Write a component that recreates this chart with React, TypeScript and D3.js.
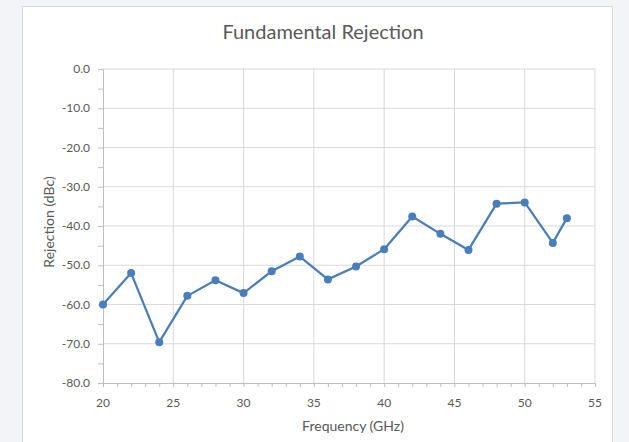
import React, { useEffect, useRef } from 'react';
import * as d3 from 'd3';

// Fundamental rejection vs frequency
const frequencies = [20, 22, 24, 26, 28, 30, 32, 34, 36, 38, 40, 42, 44, 46, 48, 50, 52, 53];
const rejection = [-60.0, -52.0, -69.6, -57.8, -53.8, -57.1, -51.5, -47.8, -53.6, -50.3, -45.9, -37.6, -42.0, -46.1, -34.3, -34.0, -44.3, -38.0];
const xTicks = [20, 25, 30, 35, 40, 45, 50, 55];
const yTicks = [0, -10, -20, -30, -40, -50, -60, -70, -80];

const W = 629;
const H = 442;
const FONT = "Lato, 'Open Sans', sans-serif";

const App: React.FC = () => {
  const svgRef = useRef<SVGSVGElement>(null);

  useEffect(() => {
    if (!svgRef.current) return;
    const svg = d3.select(svgRef.current);
    svg.selectAll("*").remove();

    // page background + card
    svg.append("rect").attr("width", W).attr("height", H).attr("fill", "#f3f4f7");
    svg.append("rect")
      .attr("x", 22.5).attr("y", 6.5)
      .attr("width", 590).attr("height", H)
      .attr("fill", "#ffffff")
      .attr("stroke", "#d9d9d9");

    const x = d3.scaleLinear().domain([20, 55]).range([103, 595]);
    const y = d3.scaleLinear().domain([-80, 0]).range([383, 69]);

    // gridlines
    svg.append("g").selectAll("line.h")
      .data(yTicks.filter(d => d !== -80))
      .enter().append("line")
      .attr("x1", x(20)).attr("x2", x(55))
      .attr("y1", d => y(d)).attr("y2", d => y(d))
      .attr("stroke", "#d9d9d9").attr("stroke-width", 1);

    svg.append("g").selectAll("line.v")
      .data(xTicks.filter(d => d !== 20))
      .enter().append("line")
      .attr("x1", d => x(d)).attr("x2", d => x(d))
      .attr("y1", y(0)).attr("y2", y(-80))
      .attr("stroke", "#d9d9d9").attr("stroke-width", 1);

    // y axis with minor ticks
    const yAxis = svg.append("g")
      .attr("transform", `translate(${x(20)},0)`)
      .call(d3.axisLeft(y).tickValues(d3.range(-80, 1, 5)).tickSize(5).tickFormat(() => ""));
    yAxis.select(".domain").attr("stroke", "#bfbfbf");
    yAxis.selectAll(".tick line").attr("stroke", "#bfbfbf");

    svg.append("g").selectAll("text")
      .data(yTicks)
      .enter().append("text")
      .attr("x", 90)
      .attr("y", d => y(d) + 4)
      .attr("text-anchor", "end")
      .attr("font-family", FONT)
      .attr("font-size", 12)
      .attr("fill", "#595959")
      .text(d => d.toFixed(1));

    // x axis with minor ticks
    const xAxis = svg.append("g")
      .attr("transform", `translate(0,${y(-80)})`)
      .call(d3.axisBottom(x).tickValues(d3.range(20, 56, 1)).tickSize(4).tickFormat(() => ""));
    xAxis.select(".domain").attr("stroke", "#bfbfbf");
    xAxis.selectAll(".tick line").attr("stroke", "#bfbfbf");

    svg.append("g").selectAll("text")
      .data(xTicks)
      .enter().append("text")
      .attr("x", d => x(d))
      .attr("y", 407)
      .attr("text-anchor", "middle")
      .attr("font-family", FONT)
      .attr("font-size", 12)
      .attr("fill", "#595959")
      .text(d => d);

    // titles
    svg.append("text")
      .attr("x", 323).attr("y", 39)
      .attr("text-anchor", "middle")
      .attr("font-family", FONT)
      .attr("font-size", 20)
      .attr("fill", "#595959")
      .text("Fundamental Rejection");

    svg.append("text")
      .attr("x", 353).attr("y", 431)
      .attr("text-anchor", "middle")
      .attr("font-family", FONT)
      .attr("font-size", 14)
      .attr("fill", "#595959")
      .text("Frequency (GHz)");

    svg.append("text")
      .attr("transform", `translate(54,222) rotate(-90)`)
      .attr("text-anchor", "middle")
      .attr("font-family", FONT)
      .attr("font-size", 14)
      .attr("fill", "#595959")
      .text("Rejection (dBc)");

    // series
    const pts = frequencies.map((f, i) => [f, rejection[i]] as [number, number]);
    const line = d3.line<[number, number]>().x(d => x(d[0])).y(d => y(d[1]));

    svg.append("path")
      .datum(pts)
      .attr("d", line)
      .attr("fill", "none")
      .attr("stroke", "#4a7ebb")
      .attr("stroke-width", 2.25)
      .attr("stroke-linejoin", "round");

    svg.append("g").selectAll("circle")
      .data(pts)
      .enter().append("circle")
      .attr("cx", d => x(d[0]))
      .attr("cy", d => y(d[1]))
      .attr("r", 4)
      .attr("fill", "#4a7ebb");
  }, []);

  return (
    <svg
      ref={svgRef}
      width={W}
      height={H}
      style={{ position: 'absolute', left: 0, top: 0, display: 'block' }}
    />
  );
};

export default App;
